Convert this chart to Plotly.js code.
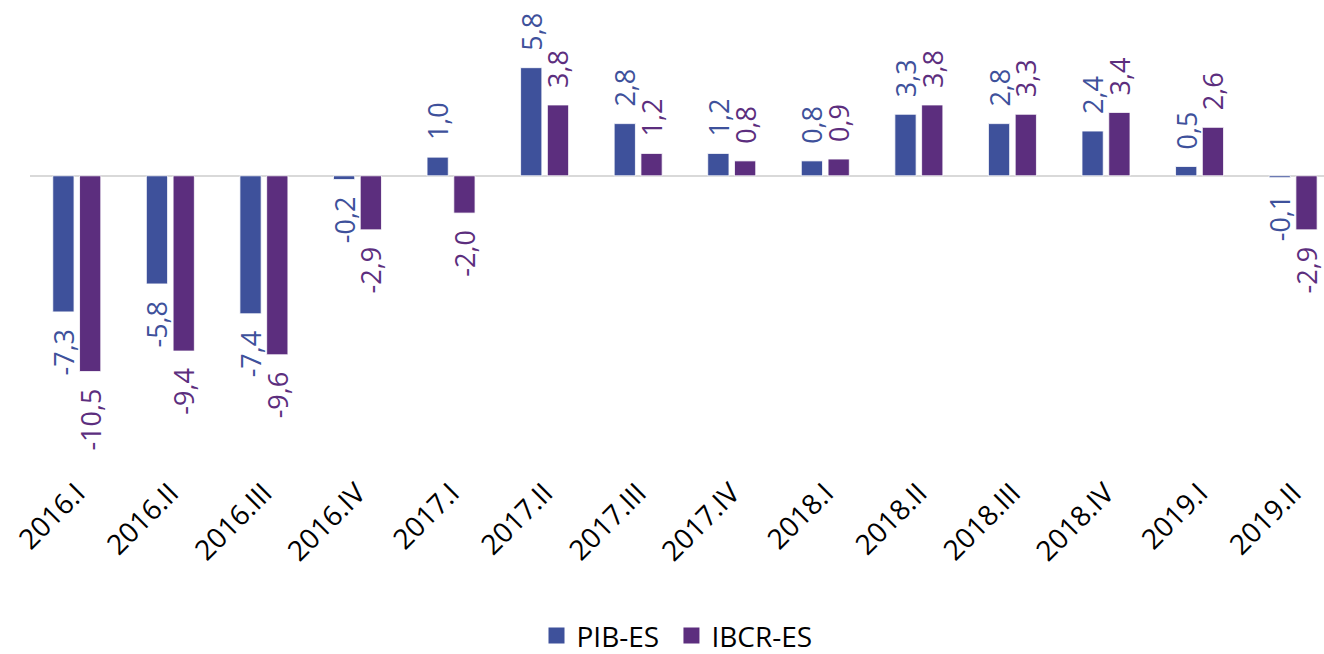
<!DOCTYPE html>
<html>
<head>
<meta charset="utf-8">
<script src="https://cdn.plot.ly/plotly-3.0.1.min.js"></script>
<style>html,body{margin:0;padding:0;background:#fff;overflow:hidden;}#chart{width:1324px;height:674px;}</style>
</head>
<body>
<div id="chart"></div>
<script>
const CATEGORIES = ['2016.I','2016.II','2016.III','2016.IV','2017.I','2017.II','2017.III','2017.IV','2018.I','2018.II','2018.III','2018.IV','2019.I','2019.II'];
const PIB_ES = [-7.3, -5.8, -7.4, -0.2, 1.0, 5.8, 2.8, 1.2, 0.8, 3.3, 2.8, 2.4, 0.5, -0.1];
const IBCR_ES = [-10.5, -9.4, -9.6, -2.9, -2.0, 3.8, 1.2, 0.8, 0.9, 3.8, 3.3, 3.4, 2.6, -2.9];
const SERIES_NAMES = ['PIB-ES', 'IBCR-ES'];

const BLUE = '#3E519B';
const PURPLE = '#5C2E7E';
const FONT = 'Open Sans, sans-serif';

function fmt(v) {
  const s = v.toFixed(1).replace('.', ',');
  return v >= 0 ? '\u00a0\u00a0' + s : s + '\u00a0\u00a0';
}

function barTrace(name, vals, color) {
  return {
    type: 'bar', name: name, x: CATEGORIES, y: vals,
    text: vals.map(fmt), textposition: 'outside', textangle: -90,
    constraintext: 'none', cliponaxis: false,
    textfont: {family: FONT, size: 27, color: color},
    marker: {color: color, line: {color: 'rgba(255,255,255,0.8)', width: 1}},
    showlegend: false, hoverinfo: 'x+y'
  };
}
function legendTrace(name, color, suffix) {
  return {
    type: 'scatter', mode: 'markers', name: name + suffix, x: [CATEGORIES[0]], y: [null],
    marker: {symbol: 'square', size: 16, color: color}, showlegend: true
  };
}

const data = [
  barTrace(SERIES_NAMES[0], PIB_ES, BLUE),
  barTrace(SERIES_NAMES[1], IBCR_ES, PURPLE),
  legendTrace(SERIES_NAMES[0], BLUE, '\u00a0'),
  legendTrace(SERIES_NAMES[1], PURPLE, '')
];

const layout = {
  width: 1324, height: 674,
  margin: {l: 30, r: 0, t: 0, b: 204},
  paper_bgcolor: '#fff', plot_bgcolor: '#fff',
  barmode: 'group', bargap: 0.428, bargroupgap: 0.206,
  font: {family: FONT, size: 26, color: '#000'},
  xaxis: {
    type: 'category', range: [-0.5, 13.33], tickangle: -45,
    showgrid: false, showline: false, ticks: '', zeroline: false,
    tickfont: {family: FONT, size: 28, color: '#000'}
  },
  yaxis: {
    range: [-15.78, 9.43], showgrid: false, showticklabels: false, ticks: '',
    zeroline: true, zerolinecolor: '#D9D9D9', zerolinewidth: 2, showline: false
  },
  legend: {
    orientation: 'h', x: 0.5, xanchor: 'center', y: -0.353, yanchor: 'middle',
    font: {family: FONT, size: 28, color: '#000'}, itemwidth: 30, tracegroupgap: 0
  },
  showlegend: true
};

Plotly.newPlot('chart', data, layout, {displayModeBar: false, staticPlot: true});
</script>
</body>
</html>
